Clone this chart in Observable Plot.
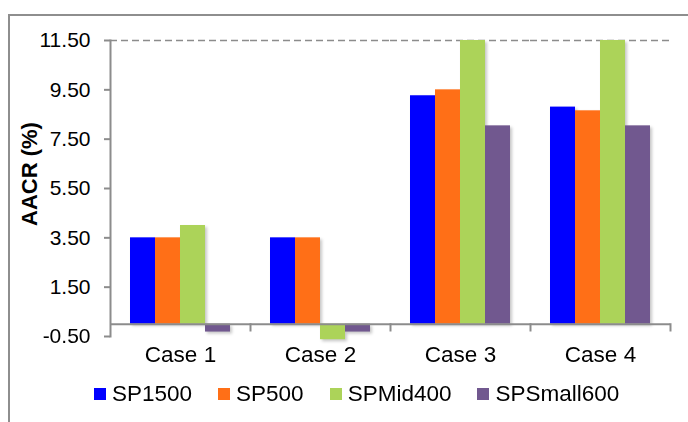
<!DOCTYPE html>
<html><head><meta charset="utf-8">
<script src="https://cdn.jsdelivr.net/npm/d3@7"></script>
<script src="https://cdn.jsdelivr.net/npm/@observablehq/plot@0.6"></script>
<style>
body{margin:0;background:#fff;font-family:"Liberation Sans",Arial,sans-serif;}
#wrap{position:relative;width:688px;height:422px;overflow:hidden;background:#fff;}
#box{position:absolute;left:8px;top:14px;width:700px;height:420px;border-left:2px solid #8e8e8e;border-top:2px solid #8e8e8e;}
#chart{position:absolute;left:0;top:0;}
#ytitle{position:absolute;left:30px;top:174px;transform:translate(-50%,-50%) rotate(-90deg);font-weight:bold;font-size:22px;white-space:nowrap;color:#000;}
#legend{position:absolute;left:94px;top:377px;}
.lg-swatch{margin-right:26px !important;}
.lg-swatch > svg{margin-right:6px !important;}
</style></head>
<body>
<div id="wrap"><div id="box"></div><div id="chart"></div><div id="ytitle">AACR (%)</div><div id="legend"></div></div>
<script>
const cases = ["Case 1", "Case 2", "Case 3", "Case 4"];
const series = ["SP1500", "SP500", "SPMid400", "SPSmall600"];
const colors = ["#0000ff", "#ff6f17", "#acd359", "#71588f"];
const sp1500 = [3.5, 3.5, 9.26, 8.8];
const sp500 = [3.5, 3.5, 9.5, 8.65];
const spMid400 = [4.0, -0.63, 11.5, 11.5];
const spSmall600 = [-0.32, -0.32, 8.04, 8.04];
const yTicks = [-0.5, 1.5, 3.5, 5.5, 7.5, 9.5, 11.5];

const valuesBySeries = [sp1500, sp500, spMid400, spSmall600];
const data = [];
cases.forEach((c, i) => series.forEach((s, j) => data.push({case: c, series: s, value: valuesBySeries[j][i]})));

const gray = "#8c8c8c";
const fmt = d => d3.format(".2f")(d).replace("\u2212", "-");
const chart = Plot.plot({
  width: 688, height: 370,
  marginLeft: 110, marginRight: 18, marginTop: 40, marginBottom: 34,
  style: {fontFamily: '"Liberation Sans", Arial, sans-serif', fontSize: "21px", color: "#000", background: "transparent", overflow: "visible"},
  fx: {domain: cases, padding: 0, axis: null},
  x: {domain: series, paddingInner: 0, paddingOuter: 0.772, axis: null},
  y: {domain: [-0.5, 11.5], axis: null},
  color: {domain: series, range: colors},
  marks: [
    Plot.ruleY([11.5], {stroke: gray, strokeWidth: 1.5, strokeDasharray: "7,4"}),
    Plot.barY(data, {fx: "case", x: "series", y: "value", fill: "series"}),
    Plot.ruleY([0], {stroke: gray, strokeWidth: 2}),
    Plot.frame({anchor: "right", stroke: gray, strokeWidth: 2, insetTop: 283.7, insetBottom: 6}),
    Plot.frame({anchor: "left", stroke: gray, strokeWidth: 2, facetAnchor: "left"}),
    Plot.axisY({ticks: yTicks, tickFormat: fmt, tickSize: 6, tickPadding: 14, stroke: gray, strokeWidth: 2, fill: "#000", label: null}),
    Plot.axisFx({anchor: "bottom", tickSize: 0, tickPadding: 10, fill: "#000", fontSize: 22.5, label: null})
  ]
});
chart.querySelectorAll('g[aria-label="bar"]').forEach(g => g.style.filter = "drop-shadow(2px 2px 1.5px rgba(0,0,0,0.22))");
document.getElementById("chart").appendChild(chart);

const legend = Plot.legend({
  color: {type: "ordinal", domain: series, range: colors},
  swatchSize: 12, className: "lg",
  style: {fontFamily: '"Liberation Sans", Arial, sans-serif', fontSize: "22.5px", color: "#000"}
});
document.getElementById("legend").appendChild(legend);
</script>
</body></html>
